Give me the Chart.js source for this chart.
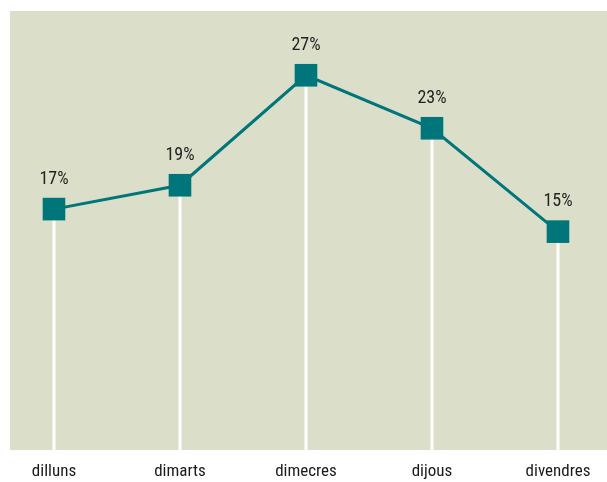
<!DOCTYPE html>
<html>
<head>
<meta charset="utf-8">
<script src="https://cdn.jsdelivr.net/npm/chart.js@4"></script>
<style>
  html, body { margin: 0; padding: 0; background: #ffffff; }
  #wrap { width: 607px; height: 482px; }
</style>
</head>
<body>
<div id="wrap"><canvas id="c" width="607" height="482"></canvas></div>
<script>
const days = ['dilluns', 'dimarts', 'dimecres', 'dijous', 'divendres'];
const values = [16.9, 18.7, 27.0, 23.0, 15.2];
const labelTexts = ['17%', '19%', '27%', '23%', '15%'];

const FONT = '"Roboto Condensed", "DejaVu Sans Condensed", sans-serif';
const TEAL = '#00767a';
const BG = '#dbdfca';

const bgPlugin = {
  id: 'bg',
  beforeDraw(chart) {
    const { ctx, chartArea: a } = chart;
    ctx.save();
    ctx.fillStyle = BG;
    ctx.fillRect(a.left, a.top, a.right - a.left, a.bottom - a.top);
    ctx.restore();
  }
};

const dropPlugin = {
  id: 'drop',
  beforeDatasetsDraw(chart) {
    const { ctx, chartArea: a } = chart;
    const meta = chart.getDatasetMeta(0);
    ctx.save();
    ctx.strokeStyle = '#ffffff';
    ctx.lineWidth = 3;
    meta.data.forEach(pt => {
      ctx.beginPath();
      ctx.moveTo(Math.round(pt.x), pt.y);
      ctx.lineTo(Math.round(pt.x), a.bottom);
      ctx.stroke();
    });
    ctx.restore();
  }
};

const labelPlugin = {
  id: 'vlabels',
  afterDatasetsDraw(chart) {
    const { ctx } = chart;
    const meta = chart.getDatasetMeta(0);
    ctx.save();
    ctx.fillStyle = '#222222';
    ctx.font = '18px ' + FONT;
    ctx.textAlign = 'center';
    ctx.textBaseline = 'middle';
    meta.data.forEach((pt, i) => {
      ctx.fillText(labelTexts[i], pt.x, pt.y - 30);
    });
    ctx.restore();
  }
};

new Chart(document.getElementById('c'), {
  type: 'line',
  data: {
    datasets: [{
      data: days.map((d, i) => ({ x: i, y: values[i] })),
      borderColor: TEAL,
      borderWidth: 3,
      backgroundColor: TEAL,
      pointStyle: 'rect',
      pointRadius: 16,
      pointHoverRadius: 16,
      pointBorderWidth: 0,
      pointBackgroundColor: TEAL,
      tension: 0,
      clip: false
    }]
  },
  options: {
    responsive: false,
    animation: false,
    devicePixelRatio: 1,
    layout: { autoPadding: false, padding: { left: 10, top: 11, right: 0, bottom: 0 } },
    plugins: { legend: { display: false }, tooltip: { enabled: false } },
    scales: {
      x: {
        type: 'linear',
        min: -0.349,
        max: 4.389,
        grid: { display: false, drawTicks: false },
        border: { display: false },
        afterFit: s => { s.height = 32; },
        ticks: {
          stepSize: 1,
          includeBounds: false,
          autoSkip: false,
          maxRotation: 0,
          padding: 12,
          color: '#1a1a1a',
          font: { family: FONT, size: 17 },
          callback: v => (Number.isInteger(v) && days[v] !== undefined) ? days[v] : ''
        }
      },
      y: {
        display: false,
        min: -1.28,
        max: 31.85
      }
    }
  },
  plugins: [bgPlugin, dropPlugin, labelPlugin]
});
</script>
</body>
</html>
